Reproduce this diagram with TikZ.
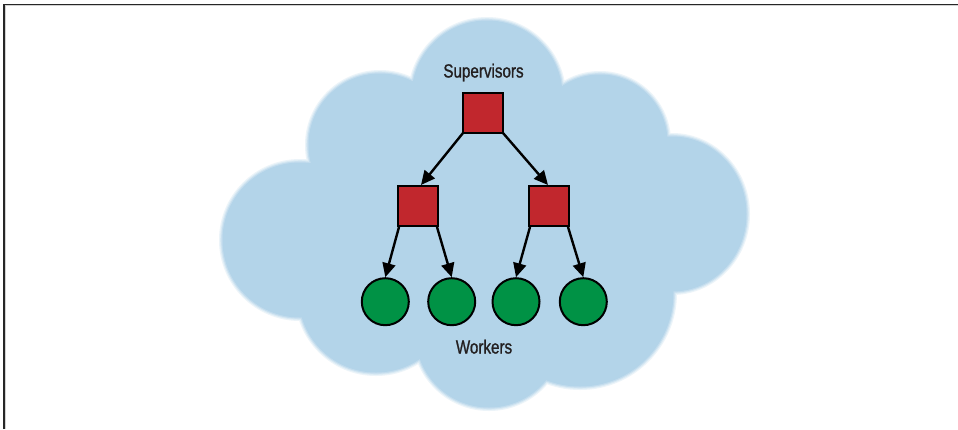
\documentclass[tikz,border=0pt]{standalone}
\usepackage{fontspec}
\setmainfont{Liberation Sans}
\newfontfamily\mylblfont{Liberation Sans}[FakeBold=1.2]
\usetikzlibrary{arrows.meta}
\definecolor{cloudblue}{RGB}{179,212,233}
\definecolor{boxred}{RGB}{193,39,45}
\definecolor{workgreen}{RGB}{0,146,69}
\definecolor{inkdark}{RGB}{35,31,32}
\newcommand\mycloudlobes[2]{%
  \fill[#1] (487,96) circle[radius=76+#2]
            (380,145) circle[radius=72+#2]
            (600,142) circle[radius=68+#2]
            (300,240) circle[radius=78+#2]
            (672,214) ellipse[x radius=75+#2, y radius=78+#2]
            (376,295) circle[radius=78+#2]
            (489,334) circle[radius=74+#2]
            (580,293) circle[radius=94+#2]
            (486,230) ellipse[x radius=190+#2, y radius=110+#2];}
\tikzset{
  sqbox/.style={draw=black, fill=boxred, line width=2pt, minimum size=40pt, inner sep=0pt},
  worker/.style={circle, draw=black, fill=workgreen, line width=2pt, minimum size=47pt, inner sep=0pt},
  lbl/.style={text=inkdark, font=\mylblfont\fontsize{19}{22}\selectfont, anchor=base, inner sep=0pt},
  link/.style={draw=black, line width=2.4pt, -{Triangle[length=14pt,width=13pt]}},
}
\begin{document}
\begin{tikzpicture}[x=1pt,y=-1pt]
\useasboundingbox (0,0) rectangle (958,429);
\fill[white] (0,0) rectangle (958,429);
% frame
\draw[gray!35, line width=1pt] (5.6,429) -- (5.6,5.8) -- (958,5.8);
\draw[black!85, line width=1.3pt] (4,429) -- (4,4.4) -- (958,4.4);
% cloud with soft edge
\mycloudlobes{cloudblue!25}{3}
\mycloudlobes{cloudblue!50}{1.8}
\mycloudlobes{cloudblue!78}{0.7}
\mycloudlobes{cloudblue}{-0.5}
% labels
\node[lbl] (suplbl) at (483.5,77.5) {\scalebox{0.8}[1]{Supervisors}};
\node[lbl] (wlbl) at (484,353.5) {\scalebox{0.8}[1]{Workers}};
% nodes
\node[sqbox] (s0) at (483,113) {};
\node[sqbox] (s1) at (418,206) {};
\node[sqbox] (s2) at (549,206) {};
\node[worker] (w1) at (385.3,301.7) {};
\node[worker] (w2) at (451.7,301.7) {};
\node[worker] (w3) at (516,301.7) {};
\node[worker] (w4) at (583.3,301.7) {};
% connectors
\draw[link] ([shift={(1pt,1pt)}]s0.south west) -- ([xshift=3pt]s1.north);
\draw[link] ([shift={(-1pt,1pt)}]s0.south east) -- ([xshift=-1pt]s2.north);
\draw[link] ([xshift=2pt]s1.south west) -- (w1.north);
\draw[link] ([xshift=-2pt]s1.south east) -- (w2.north);
\draw[link] ([xshift=2pt]s2.south west) -- (w3.north);
\draw[link] ([xshift=-2pt]s2.south east) -- (w4.north);
\end{tikzpicture}
\end{document}
